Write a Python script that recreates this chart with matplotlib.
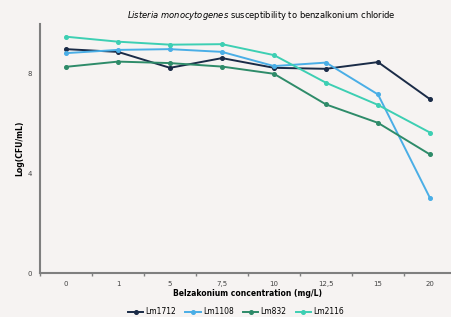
import matplotlib
matplotlib.use('Agg')
import matplotlib.pyplot as plt

concentrations = ['0', '1', '5', '7,5', '10', '12,5', '15', '20']
lm1712 = [8.99, 8.88, 8.24, 8.63, 8.24, 8.20, 8.47, 6.98]
lm1108 = [8.83, 8.96, 8.99, 8.88, 8.31, 8.45, 7.17, 3.01]
lm832 = [8.28, 8.49, 8.43, 8.29, 8.00, 6.77, 6.03, 4.76]
lm2116 = [9.49, 9.29, 9.17, 9.19, 8.75, 7.64, 6.75, 5.64]

series = [('Lm1712', lm1712, '#1a2b47'),
          ('Lm1108', lm1108, '#4aaee6'),
          ('Lm832', lm832, '#2e8b69'),
          ('Lm2116', lm2116, '#3dcfb3')]

bg = '#f6f3f2'
W, H = 452, 317
fig = plt.figure(figsize=(W / 100, H / 100), dpi=100, facecolor=bg)
# axes from x=40 to 456 px, y=24 to 273 px
ax = fig.add_axes([40 / W, 1 - 273 / H, 416 / W, 249 / H], facecolor=bg)

x = range(len(concentrations))
for name, vals, col in series:
    ax.plot(x, vals, color=col, lw=1.4, marker='o', ms=2.6, label=name)

ax.set_xlim(-0.5, len(concentrations) - 0.5)
ax.set_ylim(0, 10)
ax.set_yticks([0, 4, 8])
ax.tick_params(axis='y', length=0, labelsize=5, colors='#444444', pad=6)

# tick marks between categories, labels centered
ax.set_xticks([i - 0.5 for i in range(len(concentrations) + 1)])
ax.set_xticklabels([])
ax.tick_params(axis='x', which='major', length=2.5, width=1, color='#7f7f7f')
ax.set_xticks(list(x), minor=True)
ax.set_xticklabels(concentrations, minor=True)
ax.tick_params(axis='x', which='minor', length=0, labelsize=5, colors='#444444', pad=6)

for s in ['top', 'right']:
    ax.spines[s].set_visible(False)
for s in ['left', 'bottom']:
    ax.spines[s].set_color('#7f7f7f')
    ax.spines[s].set_linewidth(1.5)

fig.text(20 / W, 1 - 148 / H, 'Log(CFU/mL)', rotation=90, ha='center', va='center',
         fontsize=5.5, fontweight='bold')
fig.text(248 / W, 1 - 294 / H, 'Belzakonium concentration (mg/L)', ha='center', va='center',
         fontsize=5.5, fontweight='bold')
fig.text(261 / W, 1 - 16 / H, '$\\it{Listeria\\ monocytogenes}$ susceptibility to benzalkonium chloride',
         ha='center', va='center', fontsize=6)

fig.legend(loc='center', bbox_to_anchor=(236 / W, 1 - 312 / H), ncol=4, frameon=False,
           fontsize=5.5, handlelength=2, handletextpad=0.3, columnspacing=1.2)

fig.savefig('out.png', dpi=100, facecolor=bg)
